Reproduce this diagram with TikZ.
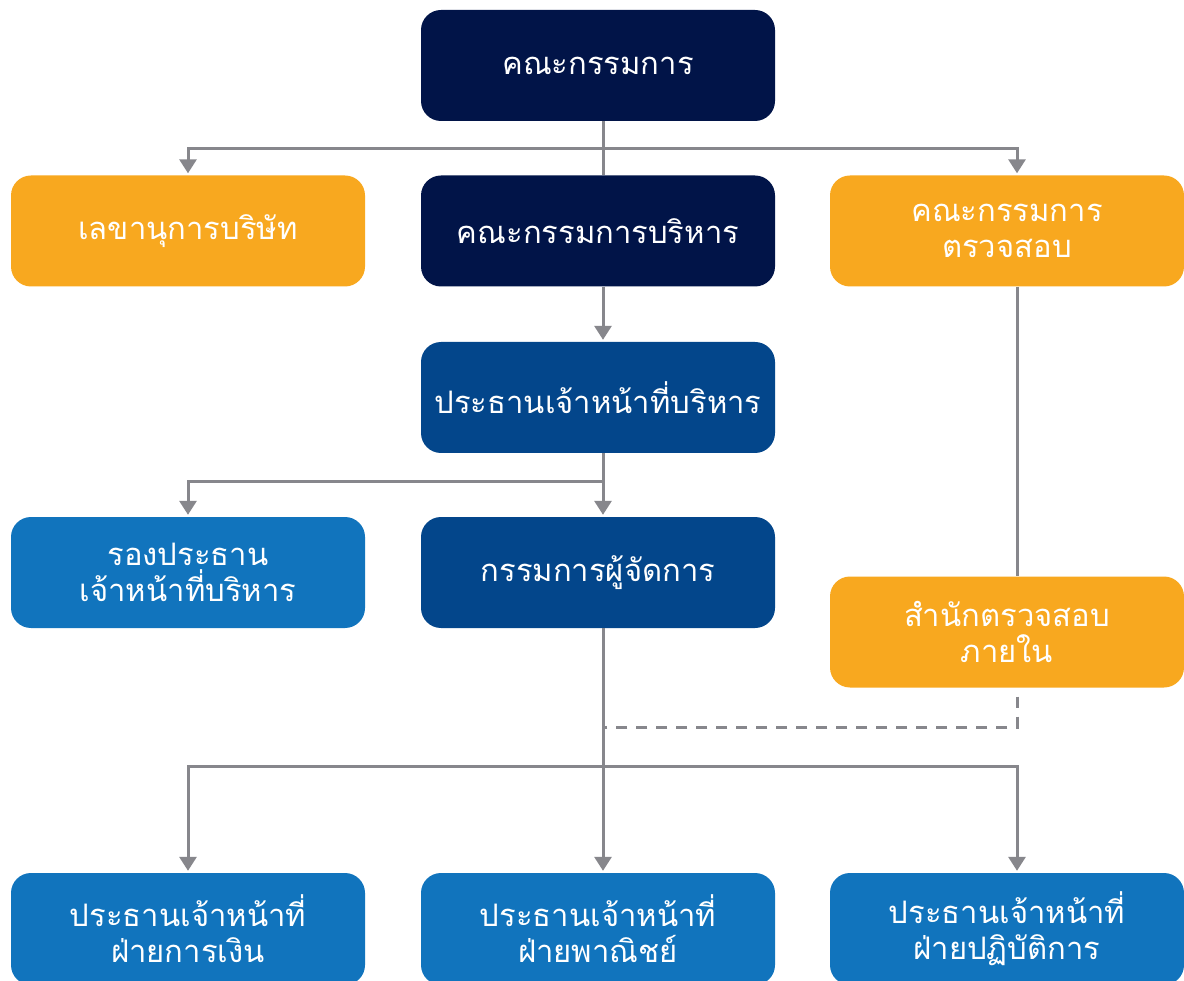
\documentclass[tikz,border=0pt]{standalone}
\usepackage{fontspec}
\newfontfamily\thaifont[Script=Thai]{Loma}
\usetikzlibrary{arrows.meta,calc}
\definecolor{navy}{RGB}{1,20,72}
\definecolor{midblue}{RGB}{3,70,139}
\definecolor{lightblue}{RGB}{17,116,189}
\definecolor{orng}{RGB}{248,168,31}
\definecolor{lgray}{RGB}{135,135,140}
\begin{document}
\begin{tikzpicture}[x=1pt,y=-1pt,
  box/.style={rectangle,rounded corners=20pt,minimum width=354pt,minimum height=111pt,inner sep=0pt,align=center,text=white,font=\thaifont\fontsize{31}{36}\selectfont},
  navybox/.style={box,fill=navy},
  midbox/.style={box,fill=midblue},
  lightbox/.style={box,fill=lightblue},
  orangebox/.style={box,fill=orng},
  conn/.style={draw=lgray,line width=3pt},
  arr/.style={conn,-{Triangle[width=17pt,length=14pt]},shorten >=2pt},
  dashconn/.style={conn,dash pattern=on 11pt off 9pt,dash phase=11pt}]
\useasboundingbox (0,0) rectangle (1184,981);
\clip (0,0) rectangle (1184,981);
\fill[white] (0,0) rectangle (1184,981);
% nodes
\node[navybox] (b1) at (598,65.5) {คณะกรรมการ};
\node[orangebox] (l2) at (188,231) {เลขานุการบริษัท};
\node[navybox] (m2) at (598,231) {คณะกรรมการบริหาร};
\node[orangebox] (r2) at (1007,231) {คณะกรรมการ\\ตรวจสอบ};
\node[midbox] (m3) at (598,397.5) {ประธานเจ้าหน้าที่บริหาร};
\node[lightbox] (l4) at (188,572.5) {รองประธาน\\เจ้าหน้าที่บริหาร};
\node[midbox] (m4) at (598,572.5) {กรรมการผู้จัดการ};
\node[orangebox] (r4) at (1007,632) {สำนักตรวจสอบ\\ภายใน};
\node[lightbox,minimum height=112pt] (l5) at (188,929) {ประธานเจ้าหน้าที่\\ฝ่ายการเงิน};
\node[lightbox,minimum height=112pt] (m5) at (598,929) {ประธานเจ้าหน้าที่\\ฝ่ายพาณิชย์};
\node[lightbox,minimum height=112pt] (r5) at (1007,929) {ประธานเจ้าหน้าที่\\ฝ่ายปฏิบัติการ};
% guide coordinates
\coordinate (tx) at (603,0);
\coordinate (rx) at (1017,0);
\coordinate (h1) at (603,149);
\coordinate (h2) at (603,482);
\coordinate (h3) at (603,766);
\coordinate (d1) at (1017,727);
% connectors
\draw[conn] (b1.south -| tx) -- (m2.north -| tx);
\draw[arr] (h1) -| (l2.north);
\draw[arr] (h1) -| (r2.north -| rx);
\draw[arr] (m2.south -| tx) -- (m3.north -| tx);
\draw[arr] (m3.south -| tx) -- (m4.north -| tx);
\draw[arr] (h2) -| (l4.north);
\draw[arr] (m4.south -| tx) -- (m5.north -| tx);
\draw[arr] (h3) -| (l5.north);
\draw[arr] (h3) -| (r5.north -| rx);
\draw[conn] (r2.south -| rx) -- (r4.north -| rx);
\draw[dashconn] (r4.south -| rx) -- (d1) -- (d1 -| tx);
\end{tikzpicture}
\end{document}
